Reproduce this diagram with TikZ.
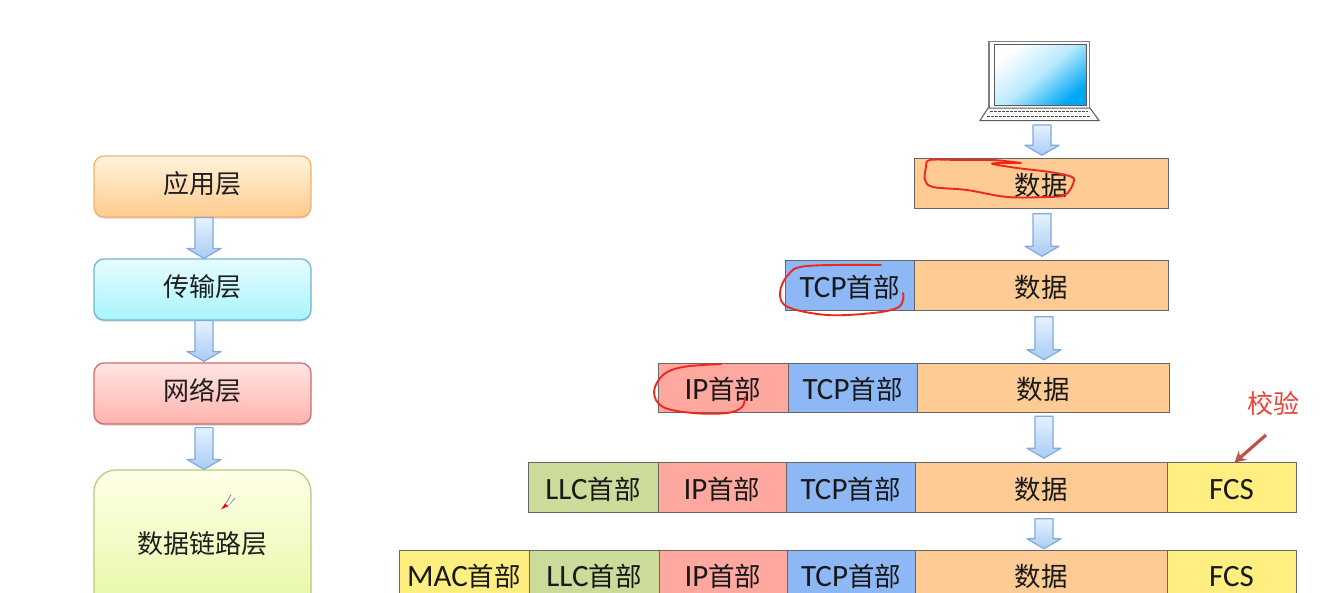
\documentclass[tikz,border=0pt]{standalone}
\usepackage{fontspec}
\setmainfont{Carlito}
\newfontfamily\cjk{Noto Sans CJK SC}
\usetikzlibrary{calc,shadows,arrows.meta}
\newcommand\hdr[1]{#1{\cjk\fontsize{26.5}{30}\selectfont 首部}}
\newcommand\blockarr[2]{\draw[blockarrow] let \p1=(#1),\p2=(#2) in
  (\x1-9pt,\y1) -- (\x1+9pt,\y1) -- (\x1+9pt,\y2+10pt) -- (\x1+17pt,\y2+10pt) -- (\x1,\y2)
  -- (\x1-17pt,\y2+10pt) -- (\x1-9pt,\y2+10pt) -- cycle;}
\definecolor{datafill}{HTML}{FDCB93}
\definecolor{tcpfill}{HTML}{8DB8F5}
\definecolor{ipfill}{HTML}{FFA8A0}
\definecolor{llcfill}{HTML}{CBDB9A}
\definecolor{yelfill}{HTML}{FFEE80}
\definecolor{arrowline}{HTML}{82A9DC}
\definecolor{arrowtop}{HTML}{E6F2FF}
\definecolor{arrowbot}{HTML}{A9CBF5}
\definecolor{scribred}{HTML}{F0281C}
\definecolor{notered}{HTML}{EE4236}
\definecolor{notearrow}{HTML}{C0504D}
\definecolor{orgline}{HTML}{F7B26A}
\definecolor{orgtop}{HTML}{FFF3DC}
\definecolor{orgbot}{HTML}{FFCB8E}
\definecolor{cyaline}{HTML}{6FB4D4}
\definecolor{cyatop}{HTML}{E6FCFF}
\definecolor{cyabot}{HTML}{A8F4FD}
\definecolor{redline}{HTML}{CF6E6A}
\definecolor{redtop}{HTML}{FFE5E3}
\definecolor{redbot}{HTML}{FFB3AE}
\definecolor{grnline}{HTML}{B4CC7A}
\definecolor{grntop}{HTML}{FFFFE8}
\definecolor{grnbot}{HTML}{E4F8A0}
\definecolor{screenblue}{HTML}{00A8F5}
\definecolor{screenmid}{HTML}{B8EAFD}
\tikzset{
  cell/.style={draw=black!60,line width=1pt,inner sep=0pt,minimum height=49.5pt,font=\fontsize{31}{34}\selectfont,text=black!90,text height=23pt,text depth=0pt},
  datacell/.style={cell,fill=datafill,minimum width=#1,font=\cjk\fontsize{26.5}{30}\selectfont},
  tcpcell/.style={cell,fill=tcpfill,minimum width=#1},
  ipcell/.style={cell,fill=ipfill,minimum width=#1},
  llccell/.style={cell,fill=llcfill,minimum width=#1},
  yelcell/.style={cell,fill=yelfill,minimum width=#1},
  layer/.style={rounded corners=10pt,line width=1.2pt,minimum width=217pt,inner sep=0pt,
    font=\cjk\fontsize{26}{30}\selectfont,text=black!88,text height=13pt,text depth=0pt,
    drop shadow={shadow xshift=0pt,shadow yshift=-1.5pt,fill=black,opacity=.18}},
  blockarrow/.style={draw=arrowline,line width=1.2pt,line join=round,top color=arrowtop,bottom color=arrowbot},
  scribble/.style={draw=scribred,line width=1.9pt,line cap=round,line join=round},
}
\begin{document}
\begin{tikzpicture}[x=1pt,y=-1pt]
\clip (0,0) rectangle (1324,592);
\fill[white] (0,0) rectangle (1324,592);

% left column
\node[layer,draw=orgline,top color=orgtop,bottom color=orgbot,minimum height=61pt] (L1) at (202.5,186.5) {应用层};
\node[layer,draw=cyaline,top color=cyatop,bottom color=cyabot,minimum height=61pt] (L2) at (202.5,289.5) {传输层};
\node[layer,draw=redline,top color=redtop,bottom color=redbot,minimum height=61pt] (L3) at (202.5,393.5) {网络层};
\node[layer,draw=grnline,top color=grntop,bottom color=grnbot,minimum height=150pt,rounded corners=22pt,text height=17pt] (L4) at (202.5,545) {数据链路层};
\blockarr{$(L1.south)+(1.5,0)$}{$(L2.north)+(1.5,0)$}
\blockarr{$(L2.south)+(1.5,0)$}{$(L3.north)+(1.5,-1)$}
\blockarr{$(L3.south)+(1.5,3)$}{$(L4.north)+(1.5,0)$}

% pen cursor
\draw[gray,line width=0.8pt] (225,505) -- (231,494.5) (227,507) -- (235,498);
\fill[white] (226,504) -- (231,497) -- (233,499) -- (228,506) -- cycle;
\fill[red] (221,509.5) -- (225,503.5) -- (228,506) -- cycle;

% laptop
\draw[black!50,line width=1.7pt,fill=white] (989,108) -- (989,41.5) -- (1089.5,41.5) -- (1089.5,108);
\draw[black!65,line width=1pt,top color=white,bottom color=screenblue,middle color=screenmid,shading angle=40] (994,44.5) rectangle (1086,105);
\draw[black!65,line width=1pt,fill=white] (988,108) -- (1090,108) -- (1099,120.5) -- (980,120.5) -- cycle;
\draw[black!70,line width=1pt,dash pattern=on 2.5pt off 1.5pt] (990,111.5) -- (1088,111.5);
\draw[black!70,line width=1pt,dash pattern=on 2.5pt off 1.5pt] (987,116) -- (1091,116);
\coordinate (lapbase) at (1042,125);

% row 1
\node[datacell=254pt] (d1) at (1041,183.5) {数据};
% row 2
\node[tcpcell=129pt] (t2) at (849.5,285.5) {\hdr{TCP}};
\node[datacell=254pt] (d2) at (1041,285.5) {数据};
% row 3
\node[ipcell=130pt] (i3) at (723,388) {\hdr{IP}};
\node[tcpcell=129pt] (t3) at (852.5,388) {\hdr{TCP}};
\node[datacell=252pt] (d3) at (1043,388) {数据};
% row 4
\node[llccell=130pt] (l4) at (593,487.5) {\hdr{LLC}};
\node[ipcell=128pt] (i4) at (722,487.5) {\hdr{IP}};
\node[tcpcell=129pt] (t4) at (850.5,487.5) {\hdr{TCP}};
\node[datacell=252pt] (d4) at (1041,487.5) {数据};
\node[yelcell=129pt] (f4) at (1231.5,487.5) {FCS};
% row 5
\node[yelcell=130pt] (m5) at (464,575) {\hdr{MAC}};
\node[llccell=130pt] (l5) at (594,575) {\hdr{LLC}};
\node[ipcell=128pt] (i5) at (723,575) {\hdr{IP}};
\node[tcpcell=128pt] (t5) at (851,575) {\hdr{TCP}};
\node[datacell=252pt] (d5) at (1041,575) {数据};
\node[yelcell=129pt] (f5) at (1231.5,575) {FCS};

% block arrows
\blockarr{lapbase}{$(d1.north)+(1,-3)$}
\blockarr{$(d1.south)+(1,5)$}{$(d2.north)+(1,-4)$}
\blockarr{$(d2.south)+(3,6)$}{$(d3.north)+(1,-3)$}
\blockarr{$(d3.south)+(1,3)$}{$(d4.north)+(3,-4)$}
\blockarr{$(d4.south)+(3,6)$}{$(d5.north)+(3,-1)$}

% note
\node[text=notered,font=\cjk\fontsize{26}{30}\selectfont,inner sep=0pt] (note) at (1273,404) {校验};
\coordinate (notefrom) at (1266,435);
\coordinate (noteto) at (1234.5,462.5);
\draw[notearrow,line width=3.2pt,-{Stealth[length=11pt,width=12pt]}] (notefrom) -- (noteto);

% red scribbles
\draw[scribble] plot[smooth,tension=0.55] coordinates {(1021,163) (992,163.5) (1017,168) (1050,172) (1072,177) (1073,184) (1065,195) (1047,197) (1007,197) (967,190) (933,187) (925,180) (926,167) (930,160) (960,160) (993,160) (1021,163)};
\draw[scribble] plot[smooth,tension=0.6] coordinates {(881,265) (807,266) (788,275) (780,293) (788,307) (827,315) (873,313) (897,308) (903,300) (903,293)};
\draw[scribble] plot[smooth,tension=0.6] coordinates {(721,364) (683,367) (663,375) (654,392) (663,407) (693,413) (727,413) (742,407) (745,397)};
\end{tikzpicture}
\end{document}
